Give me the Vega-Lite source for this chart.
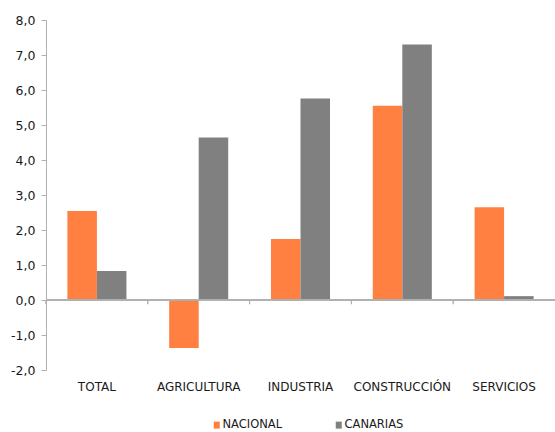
{
  "$schema": "https://vega.github.io/schema/vega-lite/v6.json",
  "width": 509,
  "height": 350,
  "autosize": "none",
  "padding": {"left": 46, "top": 20, "right": 0, "bottom": 62},
  "background": "white",
  "config": {
    "font": "DejaVu Sans",
    "view": {"stroke": null},
    "axis": {"labelFont": "DejaVu Sans", "labelColor": "#333333"}
  },
  "title": {
    "text": "Fuente: EPA (INE)",
    "orient": "bottom",
    "anchor": "start",
    "frame": "group",
    "dx": -27,
    "offset": 30,
    "fontSize": 11,
    "fontWeight": "normal",
    "color": "#333333",
    "font": "DejaVu Sans"
  },
  "data": {
    "values": [
      {"sector": "TOTAL", "serie": "NACIONAL", "valor": 2.54},
      {"sector": "TOTAL", "serie": "CANARIAS", "valor": 0.83},
      {"sector": "AGRICULTURA", "serie": "NACIONAL", "valor": -1.37},
      {"sector": "AGRICULTURA", "serie": "CANARIAS", "valor": 4.64},
      {"sector": "INDUSTRIA", "serie": "NACIONAL", "valor": 1.74},
      {"sector": "INDUSTRIA", "serie": "CANARIAS", "valor": 5.76},
      {"sector": "CONSTRUCCIÓN", "serie": "NACIONAL", "valor": 5.55},
      {"sector": "CONSTRUCCIÓN", "serie": "CANARIAS", "valor": 7.3},
      {"sector": "SERVICIOS", "serie": "NACIONAL", "valor": 2.65},
      {"sector": "SERVICIOS", "serie": "CANARIAS", "valor": 0.11}
    ]
  },
  "layer": [
    {
      "mark": {"type": "bar"},
      "encoding": {
        "x": {
          "field": "sector",
          "type": "nominal",
          "sort": ["TOTAL", "AGRICULTURA", "INDUSTRIA", "CONSTRUCCIÓN", "SERVICIOS"],
          "scale": {"paddingInner": 0.42, "paddingOuter": 0.21},
          "axis": {
            "title": null,
            "domain": false,
            "ticks": false,
            "labelAngle": 0,
            "labelPadding": 11,
            "labelFontSize": 12,
            "labelColor": "#1a1a1a"
          }
        },
        "xOffset": {
          "field": "serie",
          "type": "nominal",
          "sort": ["NACIONAL", "CANARIAS"],
          "scale": {"paddingInner": 0, "paddingOuter": 0}
        },
        "y": {
          "field": "valor",
          "type": "quantitative",
          "title": null,
          "scale": {"domain": [-2, 8], "nice": false, "zero": false},
          "axis": {
            "title": null,
            "values": [-2, -1, 0, 1, 2, 3, 4, 5, 6, 7, 8],
            "labelOverlap": false,
            "grid": false,
            "domainColor": "#B0B0B0",
            "tickColor": "#B0B0B0",
            "tickSize": 5,
            "labelPadding": 6,
            "labelFontSize": 12.5,
            "labelColor": "#1a1a1a",
            "labelExpr": "replace(replace(format(datum.value, '.1f'), '.', ','), '\u2212', '-')"
          }
        },
        "color": {
          "field": "serie",
          "type": "nominal",
          "sort": ["NACIONAL", "CANARIAS"],
          "scale": {"domain": ["NACIONAL", "CANARIAS"], "range": ["#FF8040", "#808080"]},
          "legend": {
            "title": null,
            "orient": "none",
            "direction": "horizontal",
            "legendX": 165,
            "legendY": 399,
            "padding": 0,
            "symbolType": "M-0.86,-1H0.86V1H-0.86Z",
            "symbolSize": 49,
            "symbolStrokeWidth": 0,
            "labelOffset": 0,
            "labelFontSize": 11.5,
            "labelFont": "DejaVu Sans",
            "labelColor": "#1a1a1a",
            "columnPadding": 50
          }
        }
      }
    },
    {
      "mark": {"type": "rule", "color": "#B0B0B0", "strokeWidth": 1},
      "encoding": {
        "y": {
          "datum": 0,
          "type": "quantitative",
          "title": null,
          "axis": {
            "title": null,
            "values": [-2, -1, 0, 1, 2, 3, 4, 5, 6, 7, 8],
            "labelOverlap": false,
            "grid": false,
            "domainColor": "#B0B0B0",
            "tickColor": "#B0B0B0",
            "tickSize": 5,
            "labelPadding": 6,
            "labelFontSize": 12.5,
            "labelColor": "#1a1a1a",
            "labelExpr": "replace(replace(format(datum.value, '.1f'), '.', ','), '\u2212', '-')"
          }
        }
      }
    },
    {
      "mark": {"type": "rule", "color": "#B0B0B0", "strokeWidth": 1},
      "encoding": {
        "x": {
          "field": "sector",
          "type": "nominal",
          "sort": ["TOTAL", "AGRICULTURA", "INDUSTRIA", "CONSTRUCCIÓN", "SERVICIOS"],
          "bandPosition": -0.362
        },
        "y": {
          "datum": 0,
          "type": "quantitative",
          "title": null,
          "axis": {
            "title": null,
            "values": [-2, -1, 0, 1, 2, 3, 4, 5, 6, 7, 8],
            "labelOverlap": false,
            "grid": false,
            "domainColor": "#B0B0B0",
            "tickColor": "#B0B0B0",
            "tickSize": 5,
            "labelPadding": 6,
            "labelFontSize": 12.5,
            "labelColor": "#1a1a1a",
            "labelExpr": "replace(replace(format(datum.value, '.1f'), '.', ','), '\u2212', '-')"
          }
        },
        "y2": {"datum": -0.12}
      }
    }
  ]
}
